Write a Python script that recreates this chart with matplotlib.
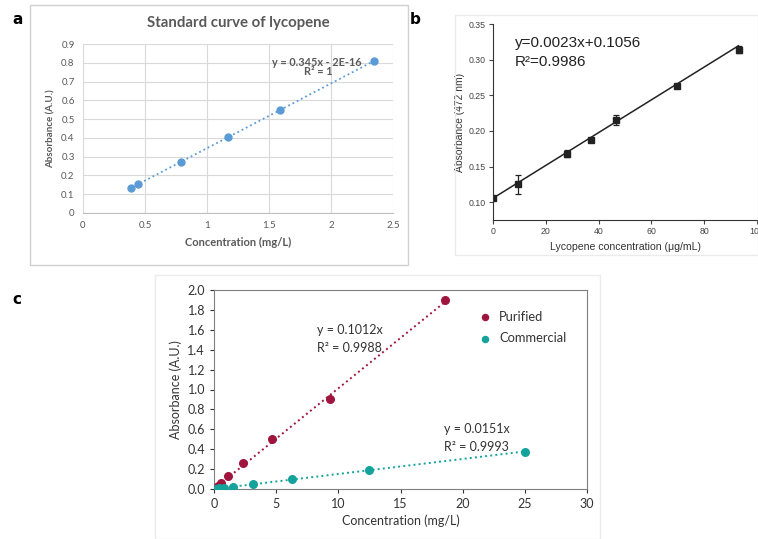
import matplotlib
matplotlib.use("Agg")
import matplotlib.pyplot as plt
from matplotlib.patches import Rectangle
import numpy as np

# panel a: standard curve (Excel style)
a_conc = [0.39, 0.44, 0.79, 1.17, 1.59, 2.35]
a_abs = [0.135, 0.152, 0.270, 0.404, 0.548, 0.810]
a_slope = 0.345

# panel b: absorbance at 472 nm
b_conc = [0.0, 9.3, 27.9, 37.2, 46.5, 69.8, 93.0]
b_abs = [0.106, 0.125, 0.168, 0.187, 0.215, 0.263, 0.314]
b_err = [0.002, 0.013, 0.005, 0.003, 0.007, 0.003, 0.005]
b_slope, b_icpt = 0.0023, 0.1056

# panel c: purified vs commercial
pur_conc = [0.0, 0.29, 0.58, 1.16, 2.33, 4.65, 9.3, 18.6]
pur_abs = [0.0, 0.03, 0.065, 0.13, 0.26, 0.50, 0.90, 1.90]
com_conc = [0.2, 0.39, 0.78, 1.56, 3.13, 6.25, 12.5, 25.0]
com_abs = [0.003, 0.006, 0.012, 0.025, 0.05, 0.10, 0.195, 0.37]
pur_slope, com_slope = 0.1012, 0.0151

W, H = 758, 539
C_BLUE = "#5B9BD5"
C_PUR = "#A0153E"
C_COM = "#14A39A"
GREY = "#595959"


def box(l, t, r, b):
    return [l / W, 1 - b / H, (r - l) / W, (b - t) / H]


fig = plt.figure(figsize=(W / 100, H / 100), dpi=100)

# background frames of the three sub-figures
for (l, t, r, b), ec in [((30, 5, 408, 265), "#D0D0D0"),
                         ((455, 15, 758, 255), "#EBEBEB"),
                         ((155, 275, 600, 539), "#EBEBEB")]:
    fig.patches.append(Rectangle((l / W, 1 - b / H), (r - l) / W, (b - t) / H,
                                 transform=fig.transFigure, fill=False,
                                 edgecolor=ec, linewidth=1))

# ---- a ----
ax1 = fig.add_axes(box(83, 44, 393, 213))
xs = np.array([min(a_conc), max(a_conc)])
ax1.plot(xs, a_slope * xs, linestyle=":", color=C_BLUE, linewidth=1.3, zorder=2)
ax1.scatter(a_conc, a_abs, s=25, color=C_BLUE, zorder=3)
ax1.set_xlim(0, 2.5)
ax1.set_ylim(0, 0.9)
ax1.set_xticks(np.arange(0, 2.51, 0.5))
ax1.set_xticklabels(["0", "0.5", "1", "1.5", "2", "2.5"])
ax1.set_yticks(np.arange(0, 0.91, 0.1))
ax1.set_yticklabels(["0", "0.1", "0.2", "0.3", "0.4", "0.5", "0.6", "0.7", "0.8", "0.9"])
ax1.grid(True, color="#D9D9D9", linewidth=0.8)
ax1.set_axisbelow(True)
for s in ["top", "right", "left"]:
    ax1.spines[s].set_visible(False)
ax1.spines["bottom"].set_color("#BFBFBF")
ax1.tick_params(length=0, labelsize=7, colors=GREY, pad=6)
for lab in ax1.get_xticklabels() + ax1.get_yticklabels():
    lab.set_family("Lato")
ax1.set_xlabel("Concentration (mg/L)", fontsize=8, color=GREY, family="Lato",
               fontweight="bold", labelpad=5)
ax1.set_ylabel("Absorbance (A.U.)", fontsize=7, color=GREY, family="Lato",
               fontweight="bold", labelpad=4)
ax1.set_title("Standard curve of lycopene", fontsize=10.8, color=GREY, family="Lato",
              fontweight="bold", pad=12)
ax1.text(2.25, 0.804, "y = 0.345x - 2E-16", fontsize=7.8, color=GREY, family="Lato",
         fontweight="bold", ha="right", va="center")
ax1.text(1.895, 0.751, "R² = 1", fontsize=7.8, color=GREY, family="Lato",
         fontweight="bold", ha="center", va="center")
fig.text(12 / W, 1 - 20 / H, "a", fontsize=11, fontweight="bold", va="center")

# ---- b ----
ax2 = fig.add_axes(box(493, 24, 757, 220))
xs = np.array([0, max(b_conc)])
ax2.plot(xs, b_slope * xs + b_icpt, color="#222222", linewidth=1.1)
ax2.errorbar(b_conc, b_abs, yerr=b_err, fmt="s", color="#222222", markersize=4.5,
             capsize=2.5, elinewidth=0.9, capthick=0.9)
ax2.set_xlim(0, 100)
ax2.set_ylim(0.075, 0.35)
ax2.set_xticks([0, 20, 40, 60, 80, 100])
ax2.set_yticks([0.10, 0.15, 0.20, 0.25, 0.30, 0.35])
ax2.yaxis.set_major_formatter(matplotlib.ticker.FormatStrFormatter("%.2f"))
for s in ["top", "right"]:
    ax2.spines[s].set_visible(False)
for s in ["left", "bottom"]:
    ax2.spines[s].set_color("#333333")
ax2.tick_params(labelsize=6.3, colors="#444444", length=3, width=0.8, pad=2)
for lab in ax2.get_xticklabels() + ax2.get_yticklabels():
    lab.set_family("Liberation Sans")
ax2.set_xlabel("Lycopene concentration (μg/mL)", fontsize=7.6, color="#333333",
               family="Liberation Sans", labelpad=4)
ax2.set_ylabel("Absorbance (472 nm)", fontsize=7.4, color="#333333",
               family="Liberation Sans", labelpad=3)
ax2.text(8.4, 0.323, "y=0.0023x+0.1056", fontsize=11, color="#222222",
         family="Liberation Sans", va="center")
ax2.text(8.4, 0.296, "R²=0.9986", fontsize=11, color="#222222",
         family="Liberation Sans", va="center")
fig.text(410 / W, 1 - 20 / H, "b", fontsize=11, fontweight="bold", va="center")

# ---- c ----
ax3 = fig.add_axes(box(214, 290, 587, 489))
xp = np.array([0, max(pur_conc)])
xc = np.array([0, max(com_conc)])
ax3.plot(xp, pur_slope * xp, linestyle=":", color=C_PUR, linewidth=1.4)
ax3.plot(xc, com_slope * xc, linestyle=":", color=C_COM, linewidth=1.4)
ax3.scatter(pur_conc, pur_abs, s=30, color=C_PUR, zorder=3, label="Purified")
ax3.scatter(com_conc, com_abs, s=30, color=C_COM, zorder=3, label="Commercial")
ax3.set_xlim(0, 30)
ax3.set_ylim(0, 2.0)
ax3.set_xticks(np.arange(0, 31, 5))
ax3.set_yticks(np.arange(0, 2.01, 0.2))
ax3.yaxis.set_major_formatter(matplotlib.ticker.FormatStrFormatter("%.1f"))
for s in ax3.spines.values():
    s.set_color("#7F7F7F")
ax3.tick_params(labelsize=9, colors="#333333", length=3, width=0.8)
for lab in ax3.get_xticklabels() + ax3.get_yticklabels():
    lab.set_family("Lato")
ax3.set_xlabel("Concentration (mg/L)", fontsize=9, color="#333333", family="Lato",
               labelpad=3)
ax3.set_ylabel("Absorbance (A.U.)", fontsize=9, color="#333333", family="Lato",
               labelpad=4)
ax3.text(8.3, 1.60, "y = 0.1012x", fontsize=9, color="#333333", family="Lato",
         va="center")
ax3.text(8.3, 1.42, "R² = 0.9988", fontsize=9, color="#333333", family="Lato",
         va="center")
ax3.text(18.5, 0.60, "y = 0.0151x", fontsize=9, color="#333333", family="Lato",
         va="center")
ax3.text(18.5, 0.42, "R² = 0.9993", fontsize=9, color="#333333", family="Lato",
         va="center")
leg = ax3.legend(loc="upper right", frameon=False, fontsize=9.3, handletextpad=0.1,
                 borderaxespad=1.2, labelspacing=0.75, markerscale=0.8,
                 bbox_to_anchor=(1.0, 1.0))
for t in leg.get_texts():
    t.set_family("Lato")
    t.set_color("#333333")
fig.text(12 / W, 1 - 300 / H, "c", fontsize=11, fontweight="bold", va="center")

fig.savefig("out.png", dpi=100)
